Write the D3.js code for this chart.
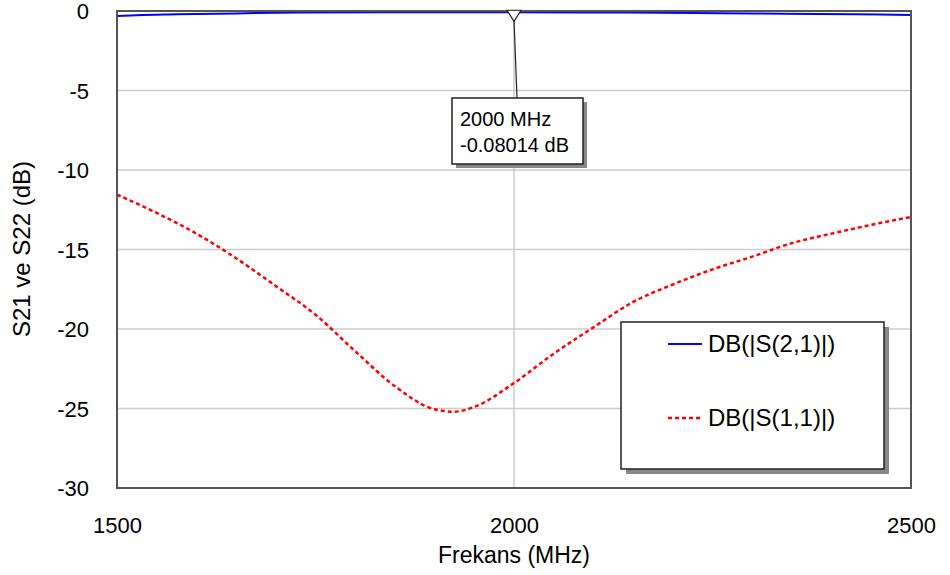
<!DOCTYPE html>
<html>
<head>
<meta charset="utf-8">
<script src="https://cdn.jsdelivr.net/npm/d3@7"></script>
<style>
  body { margin: 0; background: #fff; }
  text { font-family: "Liberation Sans", Arial, sans-serif; fill: #000; }
</style>
</head>
<body>
<div id="chart"></div>
<script>
// frequency grid (MHz) and series
const s21Freq = [1500, 1525, 1575, 1650, 1730, 1850, 2000, 2140, 2300, 2430, 2500]
const s21Db = [-0.32, -0.26, -0.21, -0.15, -0.10, -0.08, -0.08, -0.10, -0.15, -0.21, -0.25]

const s11Freq = [1500, 1550, 1600, 1650, 1700, 1750, 1800, 1850, 1900, 1925, 1950, 2000,
    2050, 2100, 2150, 2200, 2250, 2300, 2350, 2400, 2450, 2500]
const s11Db = [-11.55, -12.7, -14.0, -15.55, -17.3, -19.1, -21.4, -23.6, -25.05, -25.2, -24.9, -23.4,
    -21.55, -19.9, -18.3, -17.2, -16.25, -15.45, -14.6, -14.0, -13.45, -12.95]

const xTicks = [1500, 2000, 2500]
const yTicks = [0, -5, -10, -15, -20, -25, -30]
const legendLabels = ["DB(|S(2,1)|)", "DB(|S(1,1)|)"]
const markerFreq = 2000
const markerDb = -0.08014

const margin = { top: 11, right: 39, bottom: 87, left: 117 },
    width = 950 - margin.left - margin.right,
    height = 575 - margin.top - margin.bottom

const svg = d3.select("#chart").append("svg")
    .attr("width", 950)
    .attr("height", 575)

const g = svg.append("g")
    .attr("transform", "translate(" + margin.left + "," + margin.top + ")")

const x = d3.scaleLinear().domain([1500, 2500]).range([0, width])
const y = d3.scaleLinear().domain([-30, 0]).range([height, 0])

// grid lines
g.append("g")
    .selectAll("line")
    .data(yTicks.slice(1, -1))
    .enter().append("line")
    .attr("x1", 0).attr("x2", width)
    .attr("y1", d => y(d)).attr("y2", d => y(d))
    .attr("stroke", "#cccccc").attr("stroke-width", 1.5)
g.append("g")
    .selectAll("line")
    .data(xTicks.slice(1, -1))
    .enter().append("line")
    .attr("y1", 0).attr("y2", height)
    .attr("x1", d => x(d)).attr("x2", d => x(d))
    .attr("stroke", "#cccccc").attr("stroke-width", 1.5)

// axes labels (no tick marks), plain hyphen for minus
const yAxis = g.append("g")
    .call(d3.axisLeft(y).tickValues(yTicks).tickSize(0).tickPadding(28).tickFormat(d => String(d)))
yAxis.select(".domain").remove()
yAxis.selectAll("text").style("font-size", "22px").attr("dy", "0.35em")

const xAxis = g.append("g")
    .attr("transform", "translate(0," + height + ")")
    .call(d3.axisBottom(x).tickValues(xTicks).tickSize(0).tickPadding(29).tickFormat(d => String(d)))
xAxis.select(".domain").remove()
xAxis.selectAll("text").style("font-size", "22px")

// titles
svg.append("text")
    .attr("x", margin.left + x(2000))
    .attr("y", 563)
    .attr("text-anchor", "middle")
    .style("font-size", "23px")
    .text("Frekans (MHz)")
svg.append("text")
    .attr("transform", "translate(30," + 249 + ") rotate(-90)")
    .attr("text-anchor", "middle")
    .style("font-size", "24px")
    .text("S21 ve S22 (dB)")

// curves
const line = d3.line().x(d => x(d[0])).y(d => y(d[1]))
g.append("path")
    .datum(s11Freq.map((f, i) => [f, s11Db[i]]))
    .attr("d", line.curve(d3.curveMonotoneX))
    .attr("fill", "none")
    .attr("stroke", "#ff0000")
    .attr("stroke-width", 2.5)
    .attr("stroke-dasharray", "4,3")
g.append("path")
    .datum(s21Freq.map((f, i) => [f, s21Db[i]]))
    .attr("d", line.curve(d3.curveMonotoneX))
    .attr("fill", "none")
    .attr("stroke", "#0000ff")
    .attr("stroke-width", 2)

// plot border
g.append("rect")
    .attr("width", width).attr("height", height)
    .attr("fill", "none").attr("stroke", "#555").attr("stroke-width", 2)

// marker
const mx = x(markerFreq), my = y(markerDb)
const boxX = 335, boxY = 87, boxW = 131, boxH = 66
g.append("line")
    .attr("x1", mx).attr("x2", mx + 3)
    .attr("y1", my + 8).attr("y2", boxY)
    .attr("stroke", "#222").attr("stroke-width", 1.2)
g.append("path")
    .attr("d", `M${mx - 7},${my - 2} L${mx + 7},${my - 2} L${mx},${my + 9} Z`)
    .attr("fill", "#fff").attr("stroke", "#222").attr("stroke-width", 1.2)
g.append("rect")
    .attr("x", boxX + 4).attr("y", boxY + 4).attr("width", boxW).attr("height", boxH)
    .attr("fill", "#888")
g.append("rect")
    .attr("x", boxX).attr("y", boxY).attr("width", boxW).attr("height", boxH)
    .attr("fill", "#fff").attr("stroke", "#222").attr("stroke-width", 1.5)
g.append("text")
    .attr("x", boxX + 8).attr("y", boxY + 28)
    .style("font-size", "20px")
    .text(markerFreq + " MHz")
g.append("text")
    .attr("x", boxX + 8).attr("y", boxY + 54)
    .style("font-size", "20px")
    .text(markerDb + " dB")

// legend
const legX = 504, legY = 311, legW = 263, legH = 147
g.append("rect")
    .attr("x", legX + 5).attr("y", legY + 5).attr("width", legW).attr("height", legH)
    .attr("fill", "#888")
g.append("rect")
    .attr("x", legX).attr("y", legY).attr("width", legW).attr("height", legH)
    .attr("fill", "#fff").attr("stroke", "#222").attr("stroke-width", 1.5)
const legendStyles = [
    { color: "#0000ff", dash: null, w: 2 },
    { color: "#ff0000", dash: "4,3", w: 2.5 }
]
legendLabels.forEach((lab, i) => {
    const ly = legY + 22 + i * 74
    g.append("line")
        .attr("x1", legX + 47).attr("x2", legX + 81)
        .attr("y1", ly).attr("y2", ly)
        .attr("stroke", legendStyles[i].color)
        .attr("stroke-width", legendStyles[i].w)
        .attr("stroke-dasharray", legendStyles[i].dash)
    g.append("text")
        .attr("x", legX + 87).attr("y", ly)
        .attr("dy", "0.35em")
        .style("font-size", "24px")
        .text(lab)
})
</script>
</body>
</html>
